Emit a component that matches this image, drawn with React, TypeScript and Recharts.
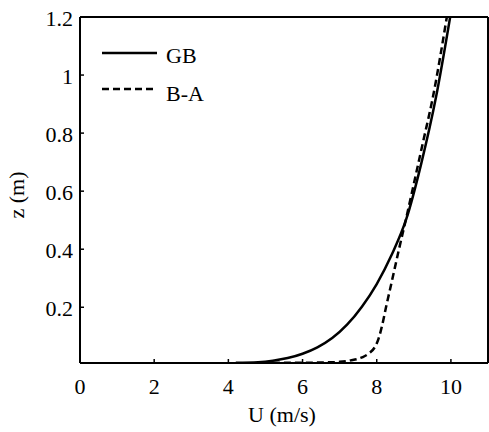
import React from "react";
import { LineChart, Line, XAxis, YAxis, Legend } from "recharts";

const xTicks = [0, 2, 4, 6, 8, 10];
const yTicks = [0.2, 0.4, 0.6, 0.8, 1, 1.2];

// GB profile (solid)
const gbU = [4.2, 4.8, 5.2, 5.6, 6.0, 6.4, 6.8, 7.2, 7.6, 8.0, 8.4, 8.8, 9.2, 9.6, 9.98];
const gbZ = [0.009, 0.011, 0.016, 0.025, 0.04, 0.062, 0.094, 0.14, 0.202, 0.28, 0.38, 0.505, 0.695, 0.925, 1.2];

// B-A profile (dashed)
const baU = [5.2, 6.0, 6.6, 7.0, 7.3, 7.6, 7.8, 7.95, 8.05, 8.15, 8.25, 8.4, 8.6, 8.8, 9.0, 9.25, 9.5, 9.89];
const baZ = [0.009, 0.009, 0.01, 0.012, 0.017, 0.027, 0.042, 0.063, 0.092, 0.14, 0.2, 0.285, 0.4, 0.51, 0.625, 0.77, 0.915, 1.2];

const gbData = gbU.map((u, i) => ({ u, z: gbZ[i] }));
const baData = baU.map((u, i) => ({ u, z: baZ[i] }));

const font = "'Liberation Serif', 'Times New Roman', serif";
const axisLine = { stroke: "#000", strokeWidth: 2 };
const tickLine = { stroke: "#000", strokeWidth: 1.5 };
const blank = () => "";

const XTick = ({ x, y, payload }: any) => (
  <text x={x} y={y} dy={15.5} textAnchor="middle" fontSize={22} fontFamily={font} fill="#000">
    {payload.value}
  </text>
);

const YTick = ({ x, y, payload }: any) => (
  <text x={x} y={y} dy={9} textAnchor="end" fontSize={22} fontFamily={font} fill="#000">
    {payload.value}
  </text>
);

const renderLegend = () => (
  <svg width={140} height={80}>
    <line x1={2} y1={18} x2={57} y2={18} stroke="#000" strokeWidth={2.5} />
    <text x={66} y={28} fontSize={22} fontFamily={font} fill="#000">GB</text>
    <line x1={2} y1={54} x2={57} y2={54} stroke="#000" strokeWidth={2.5} strokeDasharray="7 4" />
    <text x={66} y={66} fontSize={22} fontFamily={font} fill="#000">B-A</text>
  </svg>
);

const uLabel = () => (
  <text x={282} y={422} textAnchor="middle" fontSize={22} fontFamily={font} fill="#000">
    U (m/s)
  </text>
);

const zLabel = () => (
  <text x={24} y={195} transform="rotate(-90 24 195)" textAnchor="middle" fontSize={22} fontFamily={font} fill="#000">
    z (m)
  </text>
);

export default function App() {
  return (
    <div style={{ position: "absolute", left: 0, top: 0, background: "#fff" }}>
      <LineChart width={489} height={432} margin={{ top: 16, right: 0, bottom: 0, left: 0 }}>
        <XAxis
          dataKey="u"
          type="number"
          domain={[0, 11]}
          ticks={xTicks}
          allowDataOverflow
          height={69}
          tickSize={-4}
          tickMargin={19}
          tick={XTick}
          axisLine={axisLine}
          tickLine={tickLine}
          label={{ content: uLabel }}
        />
        <XAxis
          xAxisId="top"
          orientation="top"
          type="number"
          domain={[0, 11]}
          ticks={xTicks}
          height={1}
          tickSize={-4}
          tickFormatter={blank}
          axisLine={axisLine}
          tickLine={tickLine}
        />
        <YAxis
          type="number"
          domain={[0.008, 1.2]}
          ticks={yTicks}
          allowDataOverflow
          width={80}
          tickSize={-4}
          tickMargin={11}
          tick={YTick}
          axisLine={axisLine}
          tickLine={tickLine}
          label={{ content: zLabel }}
        />
        <YAxis
          yAxisId="right"
          orientation="right"
          type="number"
          domain={[0.008, 1.2]}
          ticks={yTicks}
          width={1}
          tickSize={-4}
          tickFormatter={blank}
          axisLine={axisLine}
          tickLine={tickLine}
        />
        <Legend
          layout="vertical"
          align="center"
          verticalAlign="middle"
          content={renderLegend}
          wrapperStyle={{ left: 100, top: 35, width: 140, height: 80 }}
        />
        <Line
          data={gbData}
          dataKey="z"
          type="monotone"
          stroke="#000"
          strokeWidth={2.5}
          dot={false}
          isAnimationActive={false}
        />
        <Line
          data={baData}
          dataKey="z"
          type="monotone"
          stroke="#000"
          strokeWidth={2.5}
          strokeDasharray="7 4"
          dot={false}
          isAnimationActive={false}
        />
      </LineChart>
    </div>
  );
}
